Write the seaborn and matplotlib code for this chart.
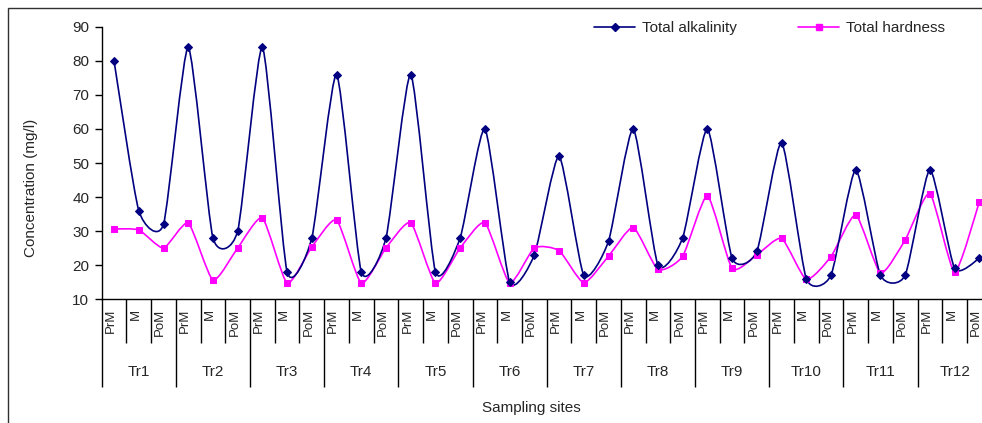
import matplotlib
matplotlib.use("Agg")
import matplotlib.pyplot as plt
import seaborn as sns
import pandas as pd
import numpy as np
from matplotlib.path import Path
from matplotlib.patches import PathPatch, Rectangle
from matplotlib.lines import Line2D
from matplotlib.transforms import blended_transform_factory

# ---- data ----
transects = ["Tr1", "Tr2", "Tr3", "Tr4", "Tr5", "Tr6",
             "Tr7", "Tr8", "Tr9", "Tr10", "Tr11", "Tr12"]
seasons = ["PrM", "M", "PoM"]
total_alkalinity = [80, 36, 32,  84, 28, 30,  84, 18, 28,  76, 18, 28,
                    76, 18, 28,  60, 15, 23,  52, 17, 27,  60, 20, 28,
                    60, 22, 24,  56, 16, 17,  48, 17, 17,  48, 19, 22]
total_hardness = [30.6, 30.3, 25,  32.3, 15.6, 25,  33.8, 14.7, 25.3,  33.2, 14.7, 25,
                  32.4, 14.7, 25,  32.4, 14.8, 25,  24.2, 14.8, 22.6,  31, 18.7, 22.6,
                  40.3, 19, 23,  27.8, 15.8, 22.5,  34.7, 17.7, 27.4,  41, 18, 38.6]
yticks = [10, 20, 30, 40, 50, 60, 70, 80, 90]

labels = [s for t in transects for s in seasons]
n = len(labels)
df = pd.DataFrame({
    "site": list(range(n)) * 2,
    "value": total_alkalinity + total_hardness,
    "series": ["Total alkalinity"] * n + ["Total hardness"] * n,
})

NAVY = "#000080"
MAG = "#FF00FF"

sns.set_style("white")
plt.rcParams["font.family"] = ["Liberation Sans", "DejaVu Sans"]

W, H = 982, 423
fig = plt.figure(figsize=(W / 100, H / 100), dpi=100)
ax = fig.add_axes([101.7 / W, 1 - 299 / H, 890 / W, 272 / H])

# chart area border
fig.patches.append(Rectangle((8 / W, -0.1), 1.2, 1 - 8 / H + 0.1, transform=fig.transFigure,
                             fill=False, edgecolor="#303030", lw=1.0))


def smooth_path(xs, ys, k=0.1):
    pts = np.column_stack([xs, ys]).astype(float)
    verts = [pts[0]]
    codes = [Path.MOVETO]
    m = len(pts)
    for i in range(m - 1):
        p0 = pts[i - 1] if i > 0 else pts[i]
        p1 = pts[i]
        p2 = pts[i + 1]
        p3 = pts[i + 2] if i + 2 < m else pts[i + 1]
        c1 = p1 + (p2 - p0) * k
        c2 = p2 - (p3 - p1) * k
        verts += [c1, c2, p2]
        codes += [Path.CURVE4] * 3
    return Path(verts, codes)


for name, color, marker, ms in [("Total hardness", MAG, "s", 5),
                                ("Total alkalinity", NAVY, "D", 4.5)]:
    sub = df[df["series"] == name]
    ax.add_patch(PathPatch(smooth_path(sub["site"].values, sub["value"].values),
                           fill=False, edgecolor=color, lw=1.2, transform=ax.transData))
    sns.lineplot(data=sub, x="site", y="value", color=color, marker=marker,
                 markersize=ms, markeredgecolor=color, linestyle="", ax=ax, legend=False)

ax.set_xlabel("")
ax.set_ylabel("")
ax.set_xlim(-0.5, n - 0.5)
ax.set_ylim(10, 90)
ax.set_yticks(yticks)
ax.set_yticklabels([str(v) for v in yticks], fontsize=11)
ax.tick_params(axis="y", direction="out", length=5, width=1, color="black", pad=4, left=True)

# x ticks: category boundaries (minor) and group boundaries (major)
ax.set_xticks([g * 3 - 0.5 for g in range(len(transects) + 1)])
ax.set_xticks([i - 0.5 for i in range(n + 1) if i % 3 != 0], minor=True)
ax.set_xticklabels([])
ax.tick_params(axis="x", which="major", direction="out", length=63, width=1, color="black", bottom=True)
ax.tick_params(axis="x", which="minor", direction="out", length=32, width=1, color="black", bottom=True)

for s in ["top", "right"]:
    ax.spines[s].set_visible(False)
for s in ["left", "bottom"]:
    ax.spines[s].set_color("black")
    ax.spines[s].set_linewidth(1)

trans = blended_transform_factory(ax.transData, ax.transAxes)
for i, lab in enumerate(labels):
    ax.text(i - 0.13, -0.035, lab, rotation=90, ha="center", va="top", fontsize=9.5,
            transform=trans, clip_on=False)
for g, t in enumerate(transects):
    ax.text(g * 3 + 1, -0.27, t, ha="center", va="center", fontsize=11,
            transform=trans, clip_on=False)

fig.text(531 / W, 1 - 408 / H, "Sampling sites", ha="center", va="center", fontsize=11)
fig.text(31 / W, 1 - 188 / H, "Concentration (mg/l)", ha="center", va="center",
         rotation=90, fontsize=11)

handles = [Line2D([], [], color=NAVY, marker="D", markersize=4, lw=1.2),
           Line2D([], [], color=MAG, marker="s", markersize=4.5, lw=1.2)]
fig.legend(handles, ["Total alkalinity", "Total hardness"], loc="center left",
           bbox_to_anchor=(594 / W, 1 - 28 / H), ncol=2, frameon=False, fontsize=11,
           handlelength=2.7, handletextpad=0.45, columnspacing=4.0, borderpad=0,
           borderaxespad=0)

fig.savefig("out.png", dpi=100)
